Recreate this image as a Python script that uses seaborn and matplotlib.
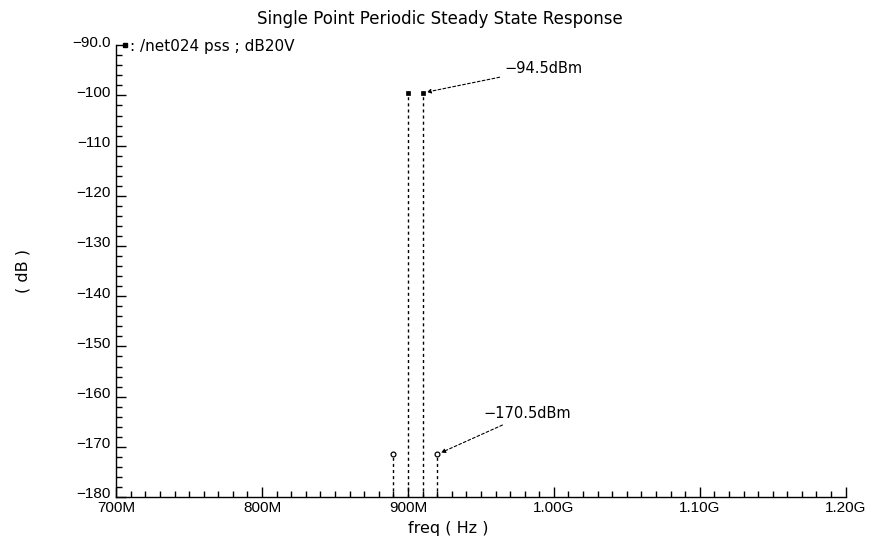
import matplotlib
matplotlib.use("Agg")
import matplotlib.pyplot as plt
import matplotlib.transforms as mtransforms
import seaborn as sns
import pandas as pd
from matplotlib.ticker import FixedLocator, MultipleLocator

# ---- data ----
freqs_hz = [890e6, 900e6, 910e6, 920e6]
levels_db = [-171.5, -99.5, -99.5, -171.5]
tone_kind = ["IM3", "fund", "fund", "IM3"]

xticks = [700e6, 800e6, 900e6, 1.0e9, 1.1e9, 1.2e9]
xtick_labels = ["700M", "800M", "900M", "1.00G", "1.10G", "1.20G"]
yticks = [-90, -100, -110, -120, -130, -140, -150, -160, -170, -180]
ytick_labels = ["−90.0", "−100", "−110", "−120", "−130", "−140", "−150", "−160", "−170", "−180"]

title = "Single Point Periodic Steady State Response"
trace_label = ": /net024 pss ; dB20V"
ann_top = "−94.5dBm"
ann_bot = "−170.5dBm"

df = pd.DataFrame({"freq": freqs_hz, "level": levels_db, "kind": tone_kind})

sns.set_theme(style="white")
plt.rcParams["font.family"] = ["DejaVu Sans"]
plt.rcParams["text.color"] = "black"
plt.rcParams["axes.labelcolor"] = "black"

fig = plt.figure(figsize=(8.8, 5.45), dpi=100)
ax = fig.add_axes([0.132, 0.088, 0.829, 0.829])

ax.set_xlim(700e6, 1.2e9)
ax.set_ylim(-180, -90)

# dashed stems from the bottom of the axis up to each point
ax.vlines(df["freq"], ymin=-180, ymax=df["level"], colors="black",
          linestyles=(0, (2.2, 2.2)), linewidth=1.0, zorder=2)

sns.scatterplot(data=df[df["kind"] == "fund"], x="freq", y="level",
                marker="s", s=10, color="black", edgecolor="black",
                linewidth=0.5, legend=False, ax=ax, zorder=3)
sns.scatterplot(data=df[df["kind"] == "IM3"], x="freq", y="level",
                marker="o", s=12, facecolor="white", edgecolor="black",
                linewidth=0.9, legend=False, ax=ax, zorder=3)

# annotations with dashed leaders
arrow = dict(arrowstyle="-|>", linestyle=(0, (2.5, 2)), lw=0.8,
             color="black", mutation_scale=6, shrinkA=1, shrinkB=3)
ax.annotate(ann_top, xy=(df["freq"][2], df["level"][2]),
            xytext=(966e6, -94.6), fontsize=10.5, va="center", ha="left",
            color="black", arrowprops=arrow)
ax.annotate(ann_bot, xy=(df["freq"][3], df["level"][3]),
            xytext=(952e6, -163.4), fontsize=10.5, va="center", ha="left",
            color="black", arrowprops=arrow)

# axes styling
for side in ["top", "right"]:
    ax.spines[side].set_visible(False)
for side in ["left", "bottom"]:
    ax.spines[side].set_color("black")
    ax.spines[side].set_linewidth(1.0)

ax.xaxis.set_major_locator(FixedLocator(xticks))
ax.set_xticklabels(xtick_labels, fontfamily="Liberation Sans")
ax.xaxis.set_minor_locator(MultipleLocator(10e6))
ax.yaxis.set_major_locator(FixedLocator(yticks))
ax.set_yticklabels(ytick_labels, fontfamily="Liberation Sans")
ax.yaxis.set_minor_locator(MultipleLocator(2))

ax.tick_params(axis="both", which="major", direction="in", length=7, width=1,
               color="black", labelsize=11, labelcolor="black")
ax.tick_params(axis="x", which="major", pad=3)
ax.tick_params(axis="y", which="major", pad=4)
ax.tick_params(axis="both", which="minor", direction="in", length=4, width=1,
               color="black")
ax.tick_params(axis="x", which="both", bottom=True)
ax.tick_params(axis="y", which="both", left=True)

# y tick labels sit slightly above their ticks in the reference
offset = mtransforms.ScaledTranslation(0, 3 / 72, fig.dpi_scale_trans)
for lbl in ax.get_yticklabels():
    lbl.set_transform(lbl.get_transform() + offset)

ax.set_xlabel("freq ( Hz )", fontsize=11.5, color="black")
ax.xaxis.set_label_coords(0.455, -0.052)
ax.set_ylabel("( dB )", fontsize=11.5, color="black")
ax.yaxis.set_label_coords(-0.117, 0.5)
fig.suptitle(title, fontsize=12, y=0.982, color="black")

# trace legend
ax.plot([], [], "s", color="black", markersize=2.5, label=trace_label)
leg = ax.legend(loc="center left", bbox_to_anchor=(0.008, 0.998), frameon=False,
                handlelength=0.4, handletextpad=0.15, fontsize=11,
                borderaxespad=0, borderpad=0, labelcolor="black")

ax.set_facecolor("white")
fig.patch.set_facecolor("white")
fig.savefig("out.png", dpi=100)
